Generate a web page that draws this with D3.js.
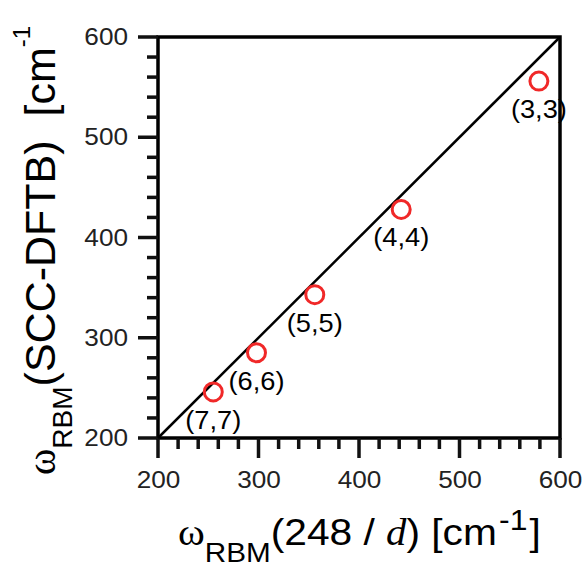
<!DOCTYPE html>
<html>
<head>
<meta charset="utf-8">
<script src="https://cdn.jsdelivr.net/npm/d3@7"></script>
<style>
  body { margin: 0; background: #fff; }
  text { font-family: "Liberation Sans", Arial, sans-serif; }
</style>
</head>
<body>
<div id="chart"></div>
<script>
// armchair tubes and their RBM frequencies [cm^-1]
var tubes = ["(3,3)", "(4,4)", "(5,5)", "(6,6)", "(7,7)"];
var wEmpirical = [579, 442, 356, 298, 255];   // 248 / d
var wDFTB = [556, 428, 343, 285, 246];        // SCC-DFTB
var majorTicks = [200, 300, 400, 500, 600];
var minorTicks = [220, 240, 260, 280, 320, 340, 360, 380, 420, 440, 460, 480, 520, 540, 560, 580];
var diagonal = [200, 600];

var margin = {top: 37, right: 25, bottom: 124, left: 158},
    width = 585 - margin.left - margin.right,
    height = 562 - margin.top - margin.bottom;

// the picture is a bit wider than tall
var sx = 1.09;
var serif = "Liberation Serif, Times New Roman, serif";

var root = d3.select("#chart")
  .append("svg")
    .attr("width", 585)
    .attr("height", 562);

var x = d3.scaleLinear().domain([200, 600]).range([margin.left, margin.left + width]);
var y = d3.scaleLinear().domain([200, 600]).range([margin.top + height, margin.top]);
var x0 = x(200), y0 = y(200);

// frame
root.append("rect")
  .attr("x", x0)
  .attr("y", y(600))
  .attr("width", width)
  .attr("height", height)
  .attr("fill", "none")
  .attr("stroke", "#000")
  .attr("stroke-width", 3.5);

// outward ticks, long at the labels, short in between
var all = majorTicks.map(function(v) { return {v: v, len: 20}; })
  .concat(minorTicks.map(function(v) { return {v: v, len: 11}; }));
root.selectAll("line.tx").data(all).enter().append("line")
  .attr("class", "tx")
  .attr("x1", function(d) { return x(d.v); })
  .attr("x2", function(d) { return x(d.v); })
  .attr("y1", y0)
  .attr("y2", function(d) { return y0 + d.len; })
  .attr("stroke", "#111")
  .attr("stroke-width", 3.5);
root.selectAll("line.ty").data(all).enter().append("line")
  .attr("class", "ty")
  .attr("y1", function(d) { return y(d.v); })
  .attr("y2", function(d) { return y(d.v); })
  .attr("x1", x0)
  .attr("x2", function(d) { return x0 - d.len; })
  .attr("stroke", "#111")
  .attr("stroke-width", 3.5);

// tick labels
root.append("g")
  .attr("transform", "translate(0," + y0 + ")")
  .call(d3.axisBottom(x).tickValues(majorTicks).tickSize(0).tickPadding(33));
var yAxis = root.append("g")
  .attr("transform", "translate(" + x0 + ",0)")
  .call(d3.axisLeft(y).tickValues(majorTicks).tickSize(0).tickPadding(30));

root.selectAll(".domain").remove();
root.selectAll(".tick text")
  .attr("font-size", 24)
  .attr("font-family", "Liberation Sans, Arial, sans-serif")
  .attr("fill", "#222")
  .attr("transform", "scale(" + sx + ",1)");
yAxis.selectAll(".tick text").attr("x", -30 / sx);

// y = x line
root.append("path")
  .datum(diagonal)
  .attr("fill", "none")
  .attr("stroke", "#000")
  .attr("stroke-width", 2.5)
  .attr("d", d3.line().x(function(d) { return x(d); }).y(function(d) { return y(d); }));

// points
root.selectAll(".pt")
  .data(tubes)
  .enter().append("circle")
    .attr("class", "pt")
    .attr("cx", function(d, i) { return x(wEmpirical[i]); })
    .attr("cy", function(d, i) { return y(wDFTB[i]); })
    .attr("r", 9)
    .attr("fill", "none")
    .attr("stroke", "#f02828")
    .attr("stroke-width", 3);

root.selectAll(".lbl")
  .data(tubes)
  .enter().append("text")
    .attr("class", "lbl")
    .attr("transform", function(d, i) {
      return "translate(" + x(wEmpirical[i]) + "," + (y(wDFTB[i]) + 37) + ") scale(" + sx + ",1)";
    })
    .attr("text-anchor", "middle")
    .attr("font-size", 25)
    .attr("fill", "#000")
    .text(function(d) { return d; });

// x title
var xt = root.append("text")
  .attr("transform", "translate(178,545) scale(1.1,1)")
  .attr("font-size", 37)
  .attr("fill", "#000");
xt.append("tspan").attr("font-family", serif).text("ω");
xt.append("tspan").attr("font-size", 27).attr("dy", 17).text("RBM");
xt.append("tspan").attr("dy", -17).text("(248 / ");
xt.append("tspan").attr("font-family", serif).attr("font-style", "italic").text("d");
xt.append("tspan").text(") [cm");
xt.append("tspan").attr("font-size", 29).attr("dy", -15).attr("dx", 2).text("-1");
xt.append("tspan").attr("dy", 15).attr("dx", 2).text("]");

// y title
var yt = root.append("text")
  .attr("transform", "translate(55,475) rotate(-90)")
  .attr("font-size", 43)
  .attr("fill", "#000");
yt.append("tspan").attr("font-family", serif).attr("font-size", 40).text("ω");
yt.append("tspan").attr("font-size", 28).attr("dy", 17).text("RBM");
yt.append("tspan").attr("dy", -17).text("(SCC-DFTB)\u00a0\u00a0[cm");
yt.append("tspan").attr("font-size", 24).attr("dy", -25).text("-1");
</script>
</body>
</html>
